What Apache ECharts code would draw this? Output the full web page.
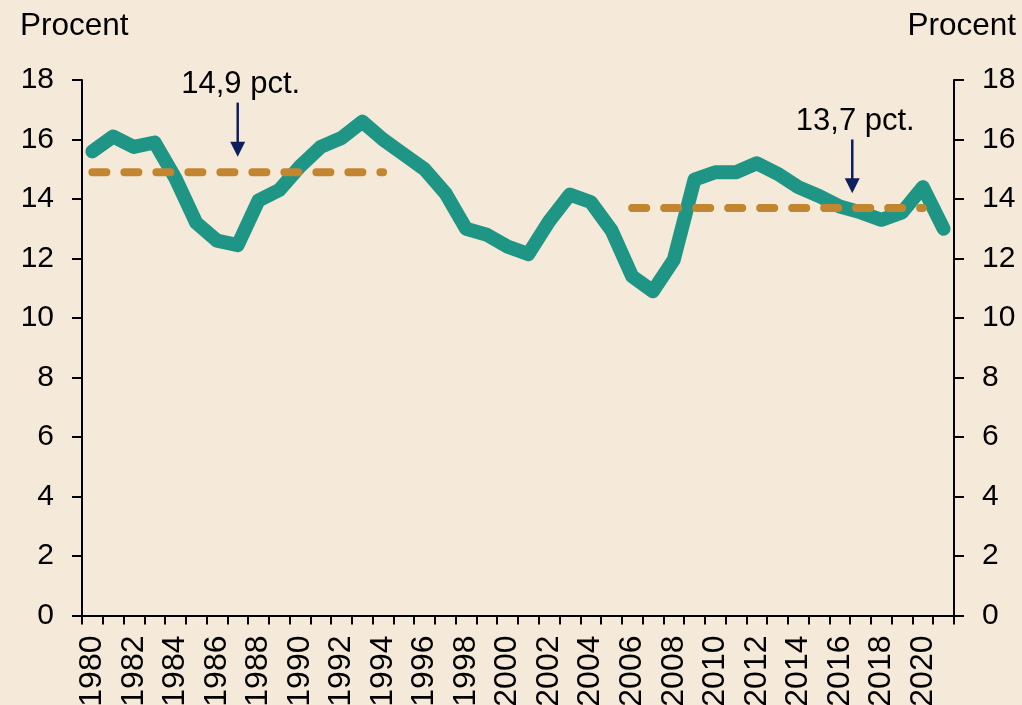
<!DOCTYPE html>
<html>
<head>
<meta charset="utf-8">
<script src="https://cdn.jsdelivr.net/npm/echarts@6/dist/echarts.min.js"></script>
<style>
html,body{margin:0;padding:0;background:#F5EADA;}
#c{width:1022px;height:705px;}
</style>
</head>
<body>
<div id="c"></div>
<script>
const years = ['1980','1981','1982','1983','1984','1985','1986','1987','1988','1989',
  '1990','1991','1992','1993','1994','1995','1996','1997','1998','1999',
  '2000','2001','2002','2003','2004','2005','2006','2007','2008','2009',
  '2010','2011','2012','2013','2014','2015','2016','2017','2018','2019',
  '2020','2021'];
const shareValues = [15.6,16.1,15.75,15.9,14.7,13.2,12.6,12.45,13.95,14.3,
  15.1,15.75,16.05,16.6,16.0,15.5,15.0,14.2,13.0,12.8,
  12.4,12.15,13.25,14.15,13.9,12.95,11.4,10.9,11.95,14.65,
  14.9,14.9,15.2,14.85,14.4,14.1,13.75,13.55,13.3,13.55,
  14.4,13.0];
const avg1 = {value: 14.9, from: '1980', to: '1994', label: '14,9 pct.'};
const avg2 = {value: 13.7, from: '2006', to: '2020', label: '13,7 pct.'};
const yTicks = {min: 0, max: 18, interval: 2};
const axisName = 'Procent';

function avgSeries(a) {
  const i0 = years.indexOf(a.from), i1 = years.indexOf(a.to);
  return years.map((y, i) => (i >= i0 && i <= i1) ? a.value : null);
}

const FONT = 'Liberation Sans, Arial, sans-serif';
const FS = 30;
const chart = echarts.init(document.getElementById('c'), null, {renderer: 'canvas'});

const yAxisBase = {
  type: 'value', min: yTicks.min, max: yTicks.max, interval: yTicks.interval,
  axisLine: {show: true, lineStyle: {color: '#000', width: 2}},
  axisTick: {show: true, length: 10, lineStyle: {color: '#000', width: 2}},
  splitLine: {show: false},
  axisLabel: {color: '#000', fontSize: FS, fontFamily: FONT, margin: 28}
};

chart.setOption({
  backgroundColor: '#F5EADA',
  animation: false,
  grid: {left: 82, right: 68, top: 80, bottom: 89.5, containLabel: false, outerBoundsMode: 'none'},
  xAxis: {
    type: 'category', data: years, boundaryGap: true,
    axisLine: {show: true, lineStyle: {color: '#000', width: 2}},
    axisTick: {show: true, interval: 0, length: 9, lineStyle: {color: '#000', width: 2}},
    axisLabel: {interval: 1, rotate: 90, color: '#000', fontSize: 32, fontFamily: FONT, margin: 20}
  },
  yAxis: [
    Object.assign({}, yAxisBase, {position: 'left'}),
    Object.assign({}, yAxisBase, {position: 'right'})
  ],
  series: [
    {
      type: 'line', data: shareValues, symbol: 'none',
      lineStyle: {color: '#1F9585', width: 14, cap: 'round', join: 'round'},
      z: 2
    },
    {
      type: 'line', data: avgSeries(avg1), symbol: 'none', connectNulls: false,
      lineStyle: {color: '#C1862F', width: 8, type: [14, 18], cap: 'round'},
      z: 3
    },
    {
      type: 'line', data: avgSeries(avg2), symbol: 'none', connectNulls: false,
      lineStyle: {color: '#C1862F', width: 8, type: [14, 18], cap: 'round'},
      z: 3
    }
  ]
});

function px(catIdx, val) {
  const i0 = Math.floor(catIdx), f = catIdx - i0;
  const p0 = chart.convertToPixel({xAxisIndex: 0, yAxisIndex: 0}, [i0, val]);
  if (f === 0) return p0;
  const p1 = chart.convertToPixel({xAxisIndex: 0, yAxisIndex: 0}, [i0 + 1, val]);
  return [p0[0] + (p1[0] - p0[0]) * f, p0[1]];
}

function annotation(catIdx, textVal, topVal, tipVal, text) {
  const t = px(catIdx, textVal), a = px(catIdx, topVal), b = px(catIdx, tipVal);
  const navy = '#0D1F5E';
  return [
    {type: 'text', x: t[0] + 3, y: t[1], z: 10,
     style: {text: text, fill: '#000', font: '31px ' + FONT, align: 'center', verticalAlign: 'middle'}},
    {type: 'line', z: 10, shape: {x1: a[0], y1: a[1], x2: b[0], y2: b[1] - 12},
     style: {stroke: navy, lineWidth: 2.5}},
    {type: 'polygon', z: 10, shape: {points: [[b[0] - 7.5, b[1] - 15], [b[0] + 7.5, b[1] - 15], [b[0], b[1]]]},
     style: {fill: navy}}
  ];
}

const graphics = []
  .concat(annotation(years.indexOf('1987'), 17.85, 17.24, 15.42, avg1.label))
  .concat(annotation(36.6, 16.6, 16.0, 14.19, avg2.label));

graphics.push({type: 'text', x: 20, y: 26, z: 10,
  style: {text: axisName, fill: '#000', font: '31.5px ' + FONT, align: 'left', verticalAlign: 'middle'}});
graphics.push({type: 'text', x: 1016, y: 26, z: 10,
  style: {text: axisName, fill: '#000', font: '31.5px ' + FONT, align: 'right', verticalAlign: 'middle'}});

chart.setOption({graphic: graphics});
</script>
</body>
</html>
